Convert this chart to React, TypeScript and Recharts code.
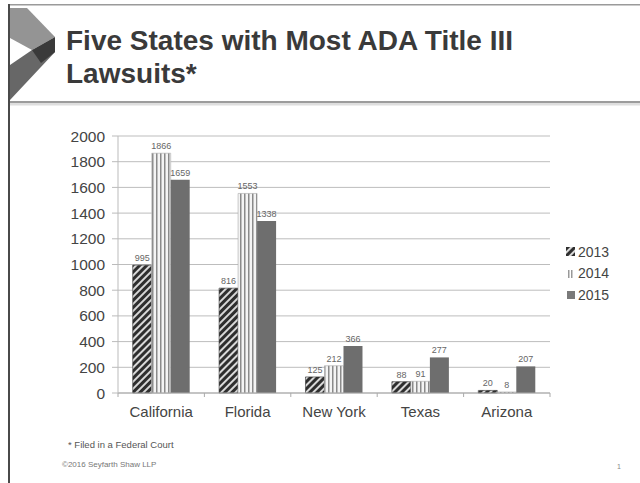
import React from 'react';
import { BarChart, Bar, XAxis, YAxis, CartesianGrid, LabelList, Legend } from 'recharts';

const states = ['California', 'Florida', 'New York', 'Texas', 'Arizona'];
const values2013 = [995, 816, 125, 88, 20];
const values2014 = [1866, 1553, 212, 91, 8];
const values2015 = [1659, 1338, 366, 277, 207];
const yTicks = [0, 200, 400, 600, 800, 1000, 1200, 1400, 1600, 1800, 2000];
const seriesNames = ['2013', '2014', '2015'];
const titleLines = ['Five States with Most ADA Title III', 'Lawsuits*'];
const footnote = '* Filed in a Federal Court';
const copyright = '\u00a92016 Seyfarth Shaw LLP';
const pageNumber = '1';

const data = states.map((s, i) => ({
  state: s,
  y2013: values2013[i],
  y2014: values2014[i],
  y2015: values2015[i],
}));

const FONT = '"Liberation Sans", Arial, Helvetica, sans-serif';
const fills = ['url(#pat2013)', 'url(#pat2014)', '#6e6e6e'];
const keys = ['y2013', 'y2014', 'y2015'];

const XTick = (props: any) => {
  const { x, y, payload, index, visibleTicksCount, width } = props;
  const half =
    typeof payload?.offset === 'number' && payload.offset > 0
      ? payload.offset
      : width && visibleTicksCount
      ? width / visibleTicksCount / 2
      : 43.2;
  return (
    <g>
      <line x1={x - half} x2={x - half} y1={y} y2={y + 4} stroke="#aaa" />
      {index === visibleTicksCount - 1 && (
        <line x1={x + half} x2={x + half} y1={y} y2={y + 4} stroke="#aaa" />
      )}
      <text x={x} y={y + 24} textAnchor="middle" fontSize={15} fill="#444" fontFamily={FONT}>
        {payload.value}
      </text>
    </g>
  );
};

const LegendIcon = ({ i }: { i: number }) => {
  if (i === 0)
    return (
      <svg width={9} height={9} style={{ marginRight: 3 }}>
        <rect width={9} height={9} fill="url(#pat2013)" />
      </svg>
    );
  if (i === 1)
    return (
      <svg width={9} height={9} style={{ marginRight: 3 }}>
        <rect x={2} y={1} width={1.5} height={8} fill="#999" />
        <rect x={5} y={1} width={1.5} height={8} fill="#999" />
      </svg>
    );
  return (
    <svg width={9} height={9} style={{ marginRight: 3 }}>
      <rect x={1} y={1} width={8} height={8} fill="#7a7a7a" />
    </svg>
  );
};

const renderLegend = () => (
  <div style={{ fontFamily: FONT, fontSize: 14, color: '#444' }}>
    {seriesNames.map((n, i) => (
      <div key={n} style={{ display: 'flex', alignItems: 'center', height: 21.5 }}>
        <LegendIcon i={i} />
        <span>{n}</span>
      </div>
    ))}
  </div>
);

export default function App() {
  return (
    <div style={{ position: 'absolute', left: 0, top: 0, width: 640, height: 483, background: '#fff', overflow: 'hidden' }}>
      <svg width={640} height={483} style={{ position: 'absolute', left: 0, top: 0 }}>
        <rect x={8} y={4} width={632} height={1.5} fill="#9a9a9a" />
        <rect x={8} y={4} width={2} height={479} fill="#4a4a4a" />
        <polygon points="10,65 32,50 55,52 10,100" fill="#676767" />
        <polygon points="10,8 27,8 55,37 32,50 10,38" fill="#949494" />
        <polygon points="32,50 55,37 55,52 41,63" fill="#3a3a3a" />
        <rect x={10} y={101} width={630} height={2} fill="#9c9c9c" />
        <rect x={10} y={103} width={630} height={2.5} fill="#dedede" />
        <text x={66} y={50} fontSize={28} fontWeight="bold" fill="#3a3a3a" fontFamily={FONT}>
          {titleLines[0]}
        </text>
        <text x={66} y={83} fontSize={28} fontWeight="bold" fill="#3a3a3a" fontFamily={FONT}>
          {titleLines[1]}
        </text>
        <text x={68} y={448} fontSize={9.5} fill="#555" fontFamily={FONT}>
          {footnote}
        </text>
        <text x={62} y={467} fontSize={8} fill="#777" fontFamily={FONT}>
          {copyright}
        </text>
        <text x={617} y={469} fontSize={7} fill="#888" fontFamily={FONT}>
          {pageNumber}
        </text>
      </svg>
      <div style={{ position: 'absolute', left: 0, top: 0 }}>
        <BarChart
          width={640}
          height={483}
          data={data}
          margin={{ top: 136, right: 90, bottom: 60, left: 58 }}
          barCategoryGap="17%"
          barGap={0}
        >
          <defs>
            <pattern id="pat2013" patternUnits="userSpaceOnUse" width={5} height={5} patternTransform="rotate(45)">
              <rect width={5} height={5} fill="#d8d8d8" />
              <rect width={3} height={5} fill="#2e2e2e" />
            </pattern>
            <pattern id="pat2014" patternUnits="userSpaceOnUse" width={4} height={4}>
              <rect width={4} height={4} fill="#f4f4f4" />
              <rect width={1.5} height={4} fill="#8a8a8a" />
            </pattern>
          </defs>
          <CartesianGrid vertical={false} stroke="#bdbdbd" />
          <XAxis
            dataKey="state"
            height={30}
            tick={<XTick />}
            tickLine={false}
            tickSize={0}
            tickMargin={0}
            axisLine={{ stroke: '#aaa' }}
            interval={0}
          />
          <YAxis
            width={60}
            domain={[0, 2000]}
            ticks={yTicks}
            tickSize={6}
            tickMargin={7}
            tickLine={{ stroke: '#bbb' }}
            axisLine={{ stroke: '#bbb' }}
            tick={{ fontSize: 15.5, fill: '#444', fontFamily: FONT }}
            interval={0}
          />
          <Legend
            layout="vertical"
            align="center"
            verticalAlign="middle"
            content={renderLegend}
            wrapperStyle={{ position: 'absolute', left: 566, top: 241, width: 60 }}
          />
          {keys.map((k, i) => (
            <Bar key={k} dataKey={k} name={seriesNames[i]} fill={fills[i]} isAnimationActive={false}
              stroke={i === 0 ? '#333' : i === 1 ? '#aaa' : 'none'} strokeWidth={i === 2 ? 0 : 0.6}>
              <LabelList dataKey={k} position="top" offset={4} fontSize={9} fill="#666" fontFamily={FONT} />
            </Bar>
          ))}
        </BarChart>
      </div>
    </div>
  );
}
